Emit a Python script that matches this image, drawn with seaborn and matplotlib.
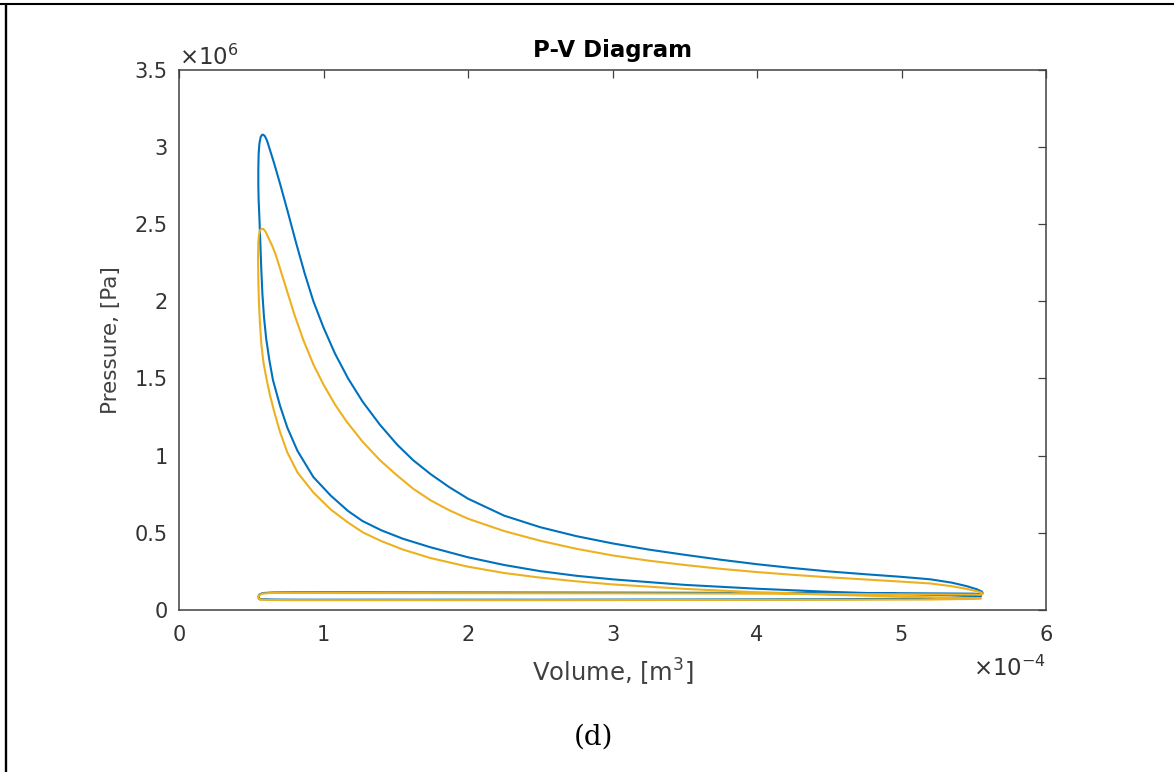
import numpy as np
import pandas as pd
import matplotlib
matplotlib.use("Agg")
import matplotlib.pyplot as plt
from matplotlib.lines import Line2D
from matplotlib.ticker import FuncFormatter
import seaborn as sns

# ---- data (Volume in 1e-4 m^3, Pressure in 1e6 Pa) ----
# Series 1 (blue): intake -> compression -> combustion/expansion -> exhaust
blue_V = [0.553, 0.57, 0.65, 0.8, 1.5, 2.5, 3.5, 4.5, 5.2, 5.5, 5.55,
          5.5, 5.3, 5.0, 4.5, 4.0, 3.5, 3.0, 2.75, 2.5, 2.25, 2.0, 1.74, 1.55, 1.4,
          1.27, 1.17, 1.05, 0.93, 0.82, 0.75, 0.70, 0.65, 0.625, 0.603, 0.588,
          0.577, 0.569, 0.562, 0.556, 0.551, 0.549, 0.549, 0.551, 0.556, 0.565,
          0.575, 0.584,
          0.595, 0.61, 0.63, 0.66, 0.70, 0.75, 0.81, 0.87, 0.93, 1.00, 1.08, 1.17,
          1.27, 1.39, 1.51, 1.62, 1.74, 1.87, 2.0, 2.25, 2.5, 2.75, 3.0, 3.25, 3.5,
          3.75, 4.0, 4.25, 4.5, 4.75, 5.0, 5.2, 5.35, 5.45, 5.52, 5.555, 5.562, 5.55,
          5.5, 5.0, 4.0, 3.0, 2.0, 1.2, 0.8, 0.65, 0.58, 0.557, 0.55, 0.553]
blue_P = [0.072, 0.068, 0.066, 0.065, 0.065, 0.065, 0.066, 0.068, 0.072, 0.080, 0.088,
          0.090, 0.094, 0.101, 0.116, 0.136, 0.161, 0.197, 0.22, 0.25, 0.29, 0.34, 0.405, 0.46, 0.515,
          0.575, 0.64, 0.74, 0.86, 1.03, 1.18, 1.32, 1.49, 1.62, 1.76, 1.90,
          2.05, 2.22, 2.40, 2.55, 2.66, 2.75, 2.86, 2.95, 3.02, 3.065,
          3.08, 3.08,
          3.07, 3.04, 2.98, 2.89, 2.76, 2.59, 2.38, 2.18, 2.00, 1.83, 1.66, 1.50,
          1.35, 1.20, 1.07, 0.97, 0.88, 0.795, 0.72, 0.61, 0.535, 0.477, 0.43, 0.39, 0.356,
          0.324, 0.295, 0.27, 0.248, 0.23, 0.213, 0.197, 0.175, 0.153, 0.133, 0.118, 0.108, 0.100,
          0.104, 0.107, 0.109, 0.111, 0.112, 0.113, 0.113, 0.112, 0.108, 0.099, 0.088, 0.072]

# Series 2 (yellow)
yellow_V = [0.56, 0.62, 0.8, 1.5, 2.5, 3.5, 4.5, 5.2, 5.5, 5.55,
            5.5, 5.3, 5.0, 4.5, 4.0, 3.5, 3.0, 2.75, 2.5, 2.25, 2.0, 1.74, 1.55, 1.4,
            1.275, 1.17, 1.05, 0.93, 0.82, 0.75, 0.70, 0.66, 0.63, 0.607, 0.585,
            0.570, 0.560, 0.553, 0.549, 0.547, 0.549, 0.553, 0.56, 0.572,
            0.585, 0.60, 0.62, 0.645, 0.67, 0.70, 0.73, 0.76, 0.80, 0.86, 0.93, 1.0,
            1.08, 1.16, 1.27, 1.39, 1.51, 1.62, 1.74, 1.87, 2.0, 2.25, 2.5, 2.75, 3.0,
            3.25, 3.5, 3.75, 4.0, 4.25, 4.5, 4.75, 5.0, 5.2, 5.35, 5.45, 5.52, 5.555,
            5.56, 5.54,
            5.5, 5.0, 4.0, 3.0, 2.0, 1.2, 0.8, 0.65, 0.58, 0.555, 0.549, 0.553, 0.56]
yellow_P = [0.066, 0.063, 0.062, 0.062, 0.062, 0.063, 0.064, 0.066, 0.070, 0.074,
            0.076, 0.079, 0.085, 0.097, 0.113, 0.135, 0.164, 0.184, 0.208, 0.238, 0.279, 0.335, 0.39, 0.445,
            0.50, 0.565, 0.65, 0.76, 0.89, 1.02, 1.15, 1.28, 1.39, 1.49, 1.60,
            1.72, 1.86, 2.00, 2.14, 2.30, 2.38, 2.43, 2.46, 2.47,
            2.468, 2.45, 2.41, 2.36, 2.30, 2.21, 2.12, 2.03, 1.91, 1.75, 1.59, 1.46,
            1.33, 1.22, 1.09, 0.97, 0.87, 0.785, 0.71, 0.645, 0.59, 0.51, 0.447, 0.395, 0.352,
            0.318, 0.29, 0.265, 0.244, 0.226, 0.21, 0.196, 0.182, 0.17, 0.152, 0.135, 0.12, 0.11,
            0.10, 0.097,
            0.098, 0.100, 0.104, 0.106, 0.107, 0.108, 0.109, 0.109, 0.105, 0.095, 0.080, 0.070, 0.066]

series_names = ["Series 1", "Series 2"]
series_colors = ["#0072BD", "#EDB120"]

x_ticks = [0, 1, 2, 3, 4, 5, 6]
y_ticks = [0, 0.5, 1, 1.5, 2, 2.5, 3, 3.5]

df = pd.concat([
    pd.DataFrame({"V": blue_V, "P": blue_P, "series": series_names[0]}),
    pd.DataFrame({"V": yellow_V, "P": yellow_P, "series": series_names[1]}),
], ignore_index=True)

# ---- style ----
sns.set_style("white")
plt.rcParams["font.family"] = ["DejaVu Sans"]
plt.rcParams["mathtext.fontset"] = "dejavusans"

W, H = 1174, 772
fig = plt.figure(figsize=(W / 100, H / 100), dpi=100)
ax = fig.add_axes([179 / W, (H - 609.7) / H, 867 / W, 539.7 / H])

sns.lineplot(data=df, x="V", y="P", hue="series", sort=False, estimator=None,
             palette=dict(zip(series_names, series_colors)), linewidth=1.5,
             legend=False, ax=ax)

ax.set_xlim(x_ticks[0], x_ticks[-1])
ax.set_ylim(y_ticks[0], y_ticks[-1])
ax.set_xticks(x_ticks)
ax.set_yticks(y_ticks)
fmt = FuncFormatter(lambda v, p: f"{v:g}")
ax.xaxis.set_major_formatter(fmt)
ax.yaxis.set_major_formatter(fmt)

axis_col = "#404040"
for s in ax.spines.values():
    s.set_visible(True)
    s.set_color(axis_col)
    s.set_linewidth(1.1)

ax.tick_params(axis="both", direction="in", length=6, width=0.9, top=True,
               right=True, colors=axis_col, labelcolor="#333333", labelsize=15)
ax.tick_params(axis="x", pad=11)
ax.tick_params(axis="y", pad=8)

ax.set_title("P-V Diagram", fontsize=16.5, fontweight="bold", color="black", pad=9)
ax.set_xlabel(r"Volume, [m$^3$]", fontsize=17.5, color="#404040")
ax.xaxis.set_label_coords(0.5, -0.088)
ax.set_ylabel("Pressure, [Pa]", fontsize=15.5, color="#404040")
ax.yaxis.set_label_coords(-0.067, 0.5)

# exponent multipliers (MATLAB style)
ax.text(0.0, 1.0093, r"$\times10^{6}$", transform=ax.transAxes, ha="left",
        va="baseline", fontsize=16.5, color="#333333")
ax.text(1.0, -0.123, r"$\times10^{-4}$", transform=ax.transAxes, ha="right",
        va="baseline", fontsize=16.5, color="#333333")

# caption
fig.text(593 / W, (H - 745) / H, "(d)", ha="center", va="baseline",
         fontsize=20, family="DejaVu Serif", color="black")

# document frame lines (top and left)
fig.add_artist(Line2D([6.2 / W, 6.2 / W], [0, 1 - 3.7 / H], transform=fig.transFigure,
                      color="black", linewidth=1.7, solid_capstyle="butt"))
fig.add_artist(Line2D([0, 1], [1 - 3.7 / H, 1 - 3.7 / H], transform=fig.transFigure,
                      color="black", linewidth=1.5, solid_capstyle="butt"))

fig.savefig("out.png", dpi=100)
